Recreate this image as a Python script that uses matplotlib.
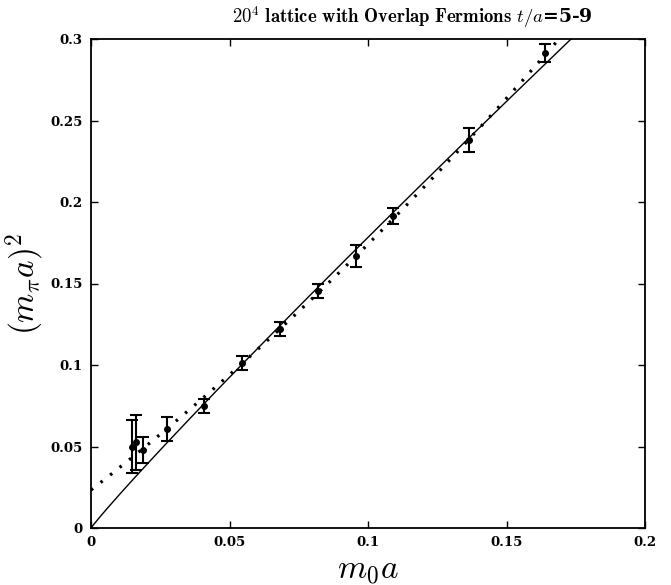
import numpy as np
import matplotlib
matplotlib.use("Agg")
import matplotlib.pyplot as plt

plt.rcParams['mathtext.fontset'] = 'cm'
plt.rcParams['font.family'] = ['DejaVu Serif']

# Data
m0a = [0.0149, 0.0164, 0.0189, 0.0273, 0.0408, 0.0546, 0.0682, 0.0818,
       0.0956, 0.1090, 0.1365, 0.1639]
mpi2 = [0.0499, 0.0525, 0.0480, 0.0608, 0.0748, 0.1014, 0.1221, 0.1454,
        0.1669, 0.1914, 0.2380, 0.2912]
mpi2_err = [0.0161, 0.0169, 0.0081, 0.0072, 0.0042, 0.0044, 0.0042, 0.0040,
            0.0068, 0.0050, 0.0074, 0.0055]

# Fit parameters (solid: chiral-log type fit through origin; dotted: quadratic)
solid_A, solid_B = 1.5645, -0.095
dot_c, dot_a, dot_b = 0.0233, 1.321, 1.873

xticks = [0, 0.05, 0.1, 0.15, 0.2]
xticklabels = ['0', '0.05', '0.1', '0.15', '0.2']
yticks = [0, 0.05, 0.1, 0.15, 0.2, 0.25, 0.3]
yticklabels = ['0', '0.05', '0.1', '0.15', '0.2', '0.25', '0.3']

fig = plt.figure(figsize=(6.71, 5.85), dpi=100)
ax = fig.add_axes([91/671, 1-528/585, (645-91)/671, (528-39)/585])

xs = np.linspace(1e-5, 0.2, 400)
ax.plot(xs, xs*(solid_A + solid_B*np.log(xs)), color='black', lw=1.0)
ax.plot(xs, dot_c + dot_a*xs + dot_b*xs**2, color='black', lw=2.3,
        linestyle=(0, (0.8, 3.0)))

ax.errorbar(m0a, mpi2, yerr=mpi2_err, fmt='o', color='black', ms=4,
            elinewidth=1.5, capsize=4, capthick=1.5)

ax.set_xlim(0, 0.2)
ax.set_ylim(0, 0.3)
ax.set_xticks(xticks)
ax.set_xticklabels(xticklabels, fontsize=9.5, fontweight='bold')
ax.set_yticks(yticks)
ax.set_yticklabels(yticklabels, fontsize=9.5, fontweight='bold')
ax.tick_params(direction='in', length=5, width=1, top=True, right=True, pad=6)
for s in ax.spines.values():
    s.set_linewidth(1.3)

ax.set_xlabel(r'$m_0 a$', fontsize=24)
ax.xaxis.set_label_coords(0.5, -0.054)
ax.set_ylabel(r'$(m_\pi a)^2$', fontsize=24)
ax.yaxis.set_label_coords(-0.079, 0.5)
fig.text(412/671, 1-17/585,
         r'$20^4\ \mathbf{lattice\ with\ Overlap\ Fermions}\ t/a$=5-9',
         fontsize=13.5, fontweight='bold', ha='center', va='center')

fig.savefig('out.png', dpi=100)
